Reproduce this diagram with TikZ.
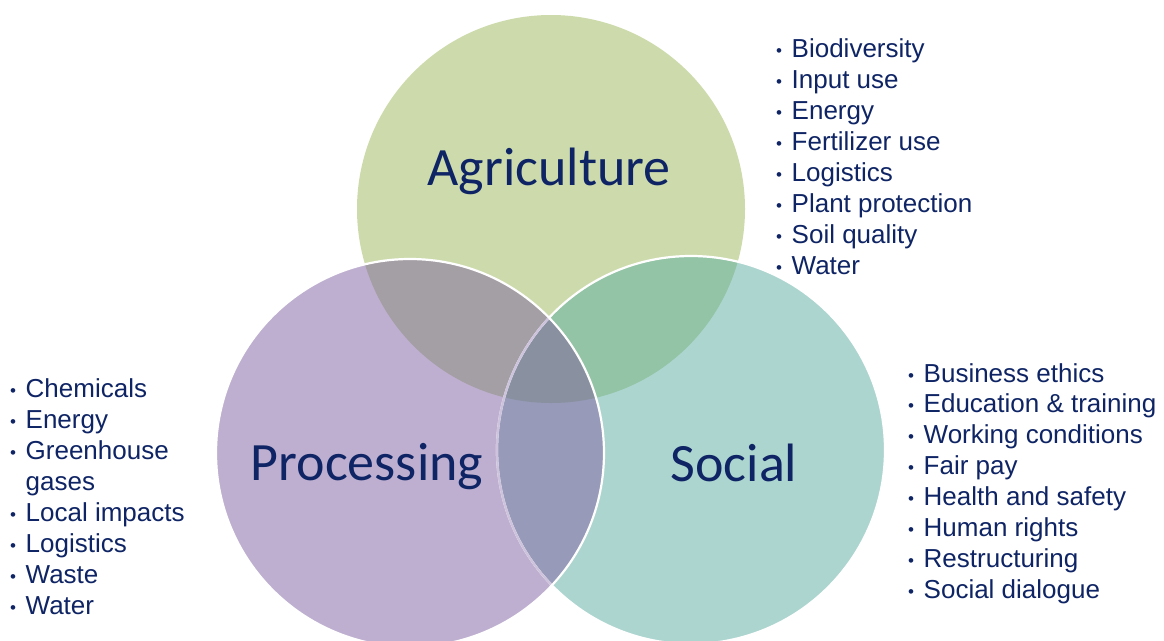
\documentclass[tikz,border=0pt]{standalone}
\usepackage{fontspec}
\setmainfont{Liberation Sans}
\newfontfamily\calibfont{Carlito}
\definecolor{agri}{HTML}{CDDBAC}
\definecolor{proc}{HTML}{BEAFD0}
\definecolor{soci}{HTML}{ADD5D0}
\definecolor{agproc}{HTML}{A49FA5}
\definecolor{agsoci}{HTML}{93C4A6}
\definecolor{procsoci}{HTML}{979AB8}
\definecolor{allthree}{HTML}{8991A1}
\definecolor{sedge}{HTML}{CDC3DD}
\definecolor{navy}{RGB}{14,36,100}
\tikzset{
  bigl/.style={font=\calibfont\fontsize{54}{60}\selectfont, text=navy, inner sep=0pt, anchor=base},
  item/.style={font=\fontsize{26}{30}\selectfont, text=navy, inner sep=0pt, anchor=base west},
}
\newcommand{\bul}{\makebox[15.5pt][l]{\raisebox{1pt}{\fontsize{17}{17}\selectfont •}}}
\begin{document}
\begin{tikzpicture}[x=1pt,y=-1pt]
\useasboundingbox (0,0) rectangle (1164,640);
\coordinate (A) at (551,209);
\coordinate (P) at (410,453);
\coordinate (S) at (691,450);
% base fills
\fill[agri] (A) circle[radius=194pt];
\fill[soci] (S) circle[radius=194pt];
\fill[proc] (P) circle[radius=194pt];
% pairwise overlaps
\begin{scope}
  \clip (A) circle[radius=194pt];
  \fill[agsoci] (S) circle[radius=194pt];
  \fill[agproc] (P) circle[radius=194pt];
\end{scope}
\begin{scope}
  \clip (P) circle[radius=194pt];
  \fill[procsoci] (S) circle[radius=194pt];
  \clip (A) circle[radius=194pt];
  \fill[allthree] (S) circle[radius=194pt];
\end{scope}
% edges
\draw[white, line width=2.2pt] (S) circle[radius=194pt];
\begin{scope}
  \clip (P) circle[radius=194pt];
  \draw[sedge, line width=2.2pt] (S) circle[radius=194pt];
\end{scope}
\draw[white, line width=2.2pt] (P) circle[radius=194pt];
% big labels
\node[bigl] (agl) at (549,185) {Agriculture};
\node[bigl] (prl) at (367,480) {Processing};
\node[bigl] (sol) at (734,481) {Social};
% lists
\foreach \t [count=\i] in {Biodiversity, Input use, Energy, Fertilizer use, Logistics, Plant protection, Soil quality, Water}
  \node[item] (ag\i) at (776,{57+31.1*(\i-1)}) {\bul\t};
\foreach \t [count=\i] in {Chemicals, Energy, Greenhouse}
  \node[item] (pr\i) at (10,{397+31.1*(\i-1)}) {\bul\t};
\node[item] (pr4) at (10,{397+31.1*3}) {\hspace*{15.5pt}gases};
\foreach \t [count=\i from 5] in {Local impacts, Logistics, Waste, Water}
  \node[item] (pr\i) at (10,{397+31.1*(\i-1)}) {\bul\t};
\foreach \t [count=\i] in {Business ethics, Education \& training, Working conditions, Fair pay, Health and safety, Human rights, Restructuring, Social dialogue}
  \node[item] (so\i) at (908,{382+30.9*(\i-1)}) {\bul\t};
\end{tikzpicture}
\end{document}
